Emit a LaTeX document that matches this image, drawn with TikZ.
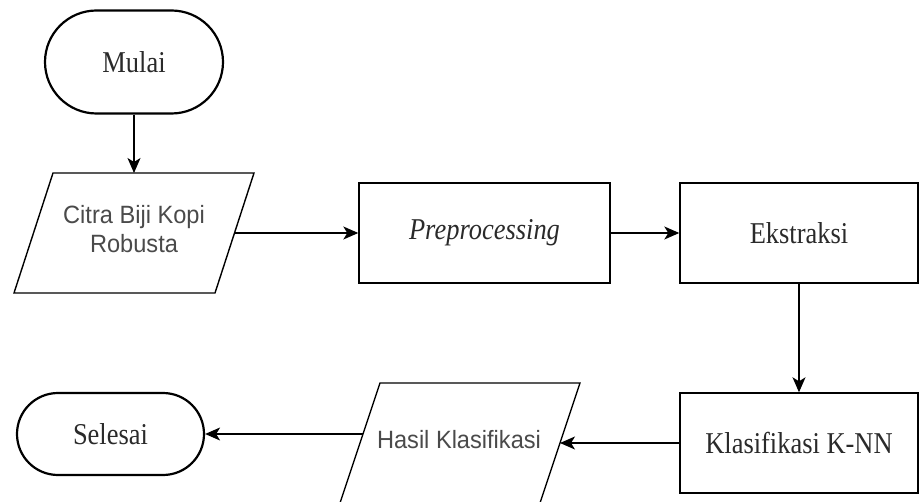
\documentclass[tikz,border=0pt]{standalone}
\usepackage{fontspec}
\setmainfont{Liberation Serif}
\newfontfamily\arialfont{Liberation Sans}
\usetikzlibrary{shapes.misc,arrows.meta}
\definecolor{serifgray}{HTML}{2A2A2A}
\definecolor{sansgray}{HTML}{4A4A4A}
\newcommand{\talltext}[1]{\scalebox{0.98}[1.12]{#1}}
\newcommand{\tallsans}[1]{\scalebox{1}[1.06]{\begin{tabular}{@{}c@{}}#1\end{tabular}}}
\begin{document}
\begin{tikzpicture}[x=1pt,y=-1pt,
  terminal/.style={rounded rectangle, draw, line width=2.2pt, inner sep=0pt,
    font=\fontsize{27}{32}\selectfont, text=serifgray},
  procbox/.style={rectangle, draw, line width=1.4pt, inner sep=0pt,
    font=\fontsize{27}{32}\selectfont, text=serifgray},
  iobox/.style={line width=1.4pt, line join=miter},
  iotext/.style={inner sep=0pt, align=center,
    font=\arialfont\fontsize{23.6}{27.4}\selectfont, text=sansgray},
  flow/.style={line width=1.3pt, -{Stealth[length=15pt,width=13pt,inset=4pt]}}
]
\useasboundingbox (0,0) rectangle (920,502);

% start
\node[terminal, minimum width=178pt, minimum height=103pt] (mulai) at (134,62) {\talltext{Mulai}};

% input parallelogram
\draw[iobox] (53,173) -- (254,173) -- (215,293) -- (14,293) -- cycle;
\node[iotext] (citra) at (134,232) {\tallsans{Citra Biji Kopi\\Robusta}};
\coordinate (citraT) at (134,173);
\coordinate (citraR) at (234.5,233);

% process boxes
\node[procbox, minimum width=251pt, minimum height=100pt] (prep) at (484.5,233) {\talltext{\itshape Preprocessing}};
\node[procbox, minimum width=238pt, minimum height=100pt] (ekst) at (799,233) {\talltext{Ekstraksi}};
\node[procbox, minimum width=238pt, minimum height=100pt] (klas) at (799,443) {\talltext{Klasifikasi K-NN}};

% output parallelogram
\draw[iobox] (380,383) -- (580,383) -- (540,503) -- (340,503) -- cycle;
\node[iotext] (hasil) at (459,443) {\tallsans{Hasil Klasifikasi}};
\coordinate (hasilR) at (560,443);
\coordinate (hasilL) at (363.3,434);

% end
\node[terminal, minimum width=187pt, minimum height=82pt] (selesai) at (110.5,434) {\talltext{Selesai}};

% connectors
\draw[flow] (mulai.south) -- (citraT);
\draw[flow] (citraR) -- (prep.west);
\draw[flow] (prep.east) -- (ekst.west);
\draw[flow] (ekst.south) -- (klas.north);
\draw[flow] (klas.west) -- (hasilR);
\draw[flow] (hasilL) -- (selesai.east);
\end{tikzpicture}
\end{document}
